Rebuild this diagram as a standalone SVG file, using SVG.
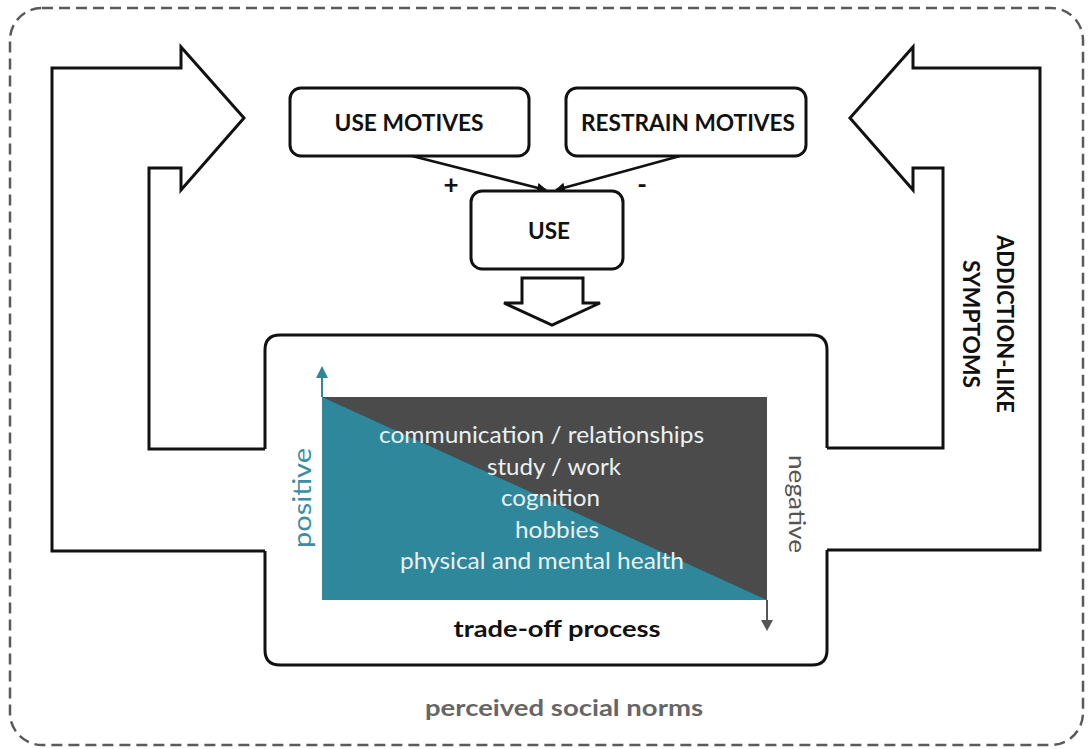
<svg xmlns="http://www.w3.org/2000/svg" width="1091" height="749" viewBox="0 0 1091 749">
  <style>
    .bg { fill: #ffffff; }
    .frame { fill: none; stroke: #5a5a5a; stroke-width: 2.5; stroke-dasharray: 11 6; }
    .box { fill: #ffffff; stroke: #111111; stroke-width: 3; }
    .outline { fill: none; stroke: #111111; stroke-width: 3; stroke-linejoin: miter; }
    .blk { fill: #ffffff; stroke: #111111; stroke-width: 3; stroke-linejoin: miter; }
    .link { fill: none; stroke: #111111; stroke-width: 2.5; }
    .lbl { font-family: Lato, "Open Sans", "Liberation Sans", sans-serif; font-weight: bold; fill: #111111; }
    .chart { font-family: Lato, "Open Sans", "Liberation Sans", sans-serif; font-size: 24px; fill: #e9f1f2; text-anchor: middle; }
  </style>
  <defs>
    <marker id="ah" viewBox="0 0 10 10" refX="9" refY="5" markerWidth="4" markerHeight="4" orient="auto" markerUnits="strokeWidth">
      <path d="M0,0 L10,5 L0,10 z" fill="#111111"/>
    </marker>
  </defs>

  <rect class="bg" x="0" y="0" width="1091" height="749"/>

  <g id="social-norms">
    <rect class="frame" x="10" y="8" width="1073" height="737" rx="32" ry="32"/>
    <text class="lbl" x="564" y="716" font-size="22" text-anchor="middle" style="fill:#666666" textLength="278" lengthAdjust="spacingAndGlyphs">perceived social norms</text>
  </g>

  <g id="connectors">
    <polyline id="feedback-left" class="outline" points="265,551 52,551 52,68 181,68 181,47 244,118 181,190 181,168 149,168 149,449 265,449"/>
    <polyline id="feedback-right" class="outline" points="827,550 1040,550 1040,68 913,68 913,47 850,118 913,190 913,168 943,168 943,448 827,448"/>
    <line class="link" x1="412" y1="156" x2="546" y2="190" marker-end="url(#ah)"/>
    <line class="link" x1="680" y1="156" x2="556" y2="190" marker-end="url(#ah)"/>
    <text class="lbl" x="451" y="194" font-size="26" text-anchor="middle">+</text>
    <text class="lbl" x="642" y="194" font-size="26" text-anchor="middle">-</text>
    <polygon id="use-to-tradeoff" class="blk" points="522,278 583,278 583,303 600,303 552,325 504,303 522,303"/>
  </g>

  <g id="use-motives">
    <rect class="box" x="290" y="88" width="239" height="68" rx="11" ry="11"/>
    <text class="lbl" x="409" y="131" font-size="22" text-anchor="middle" textLength="149" lengthAdjust="spacingAndGlyphs">USE MOTIVES</text>
  </g>

  <g id="restrain-motives">
    <rect class="box" x="566" y="88" width="240" height="68" rx="11" ry="11"/>
    <text class="lbl" x="688" y="131" font-size="22" text-anchor="middle" textLength="214" lengthAdjust="spacingAndGlyphs">RESTRAIN MOTIVES</text>
  </g>

  <g id="use">
    <rect class="box" x="471" y="191" width="152" height="78" rx="11" ry="11"/>
    <text class="lbl" x="549" y="239" font-size="22" text-anchor="middle" textLength="42" lengthAdjust="spacingAndGlyphs">USE</text>
  </g>

  <g id="trade-off">
    <path class="outline" d="M265,449 L265,350 Q265,335 280,335 L812,335 Q827,335 827,350 L827,448 M827,550 L827,650 Q827,665 812,665 L280,665 Q265,665 265,650 L265,551"/>
    <rect x="322" y="397" width="445" height="203" fill="#4b4b4b"/>
    <polygon points="322,397 767,600 322,600" fill="#2f879c"/>
    <line x1="322" y1="397" x2="322" y2="376" stroke="#2f879c" stroke-width="2"/>
    <polygon points="316,378 328,378 322,366" fill="#2f879c"/>
    <line x1="767" y1="600" x2="767" y2="622" stroke="#555555" stroke-width="2"/>
    <polygon points="761,620 773,620 767,631" fill="#555555"/>
    <text class="chart" x="541.5" y="443" textLength="325" lengthAdjust="spacingAndGlyphs">communication / relationships</text>
    <text class="chart" x="554" y="474.5" textLength="134" lengthAdjust="spacingAndGlyphs">study / work</text>
    <text class="chart" x="550.5" y="506" textLength="99" lengthAdjust="spacingAndGlyphs">cognition</text>
    <text class="chart" x="557" y="537.5" textLength="84" lengthAdjust="spacingAndGlyphs">hobbies</text>
    <text class="chart" x="542" y="569" textLength="284" lengthAdjust="spacingAndGlyphs">physical and mental health</text>
    <text x="0" y="0" transform="translate(311,498) rotate(-90)" font-family="Lato, 'Open Sans', 'Liberation Sans', sans-serif" font-size="25" fill="#3a8ea4" text-anchor="middle" textLength="100" lengthAdjust="spacingAndGlyphs">positive</text>
    <text x="0" y="0" transform="translate(789,504) rotate(90)" font-family="Lato, 'Open Sans', 'Liberation Sans', sans-serif" font-size="24" fill="#555555" text-anchor="middle" textLength="98" lengthAdjust="spacingAndGlyphs">negative</text>
    <text class="lbl" x="557" y="637" font-size="22" text-anchor="middle" textLength="207" lengthAdjust="spacingAndGlyphs">trade-off process</text>
  </g>

  <g id="addiction-symptoms">
    <text class="lbl" transform="translate(997,324) rotate(90)" x="0" y="0" font-size="22" text-anchor="middle" textLength="178" lengthAdjust="spacingAndGlyphs">ADDICTION-LIKE</text>
    <text class="lbl" transform="translate(963,324) rotate(90)" x="0" y="0" font-size="22" text-anchor="middle" textLength="128" lengthAdjust="spacingAndGlyphs">SYMPTOMS</text>
  </g>
</svg>
